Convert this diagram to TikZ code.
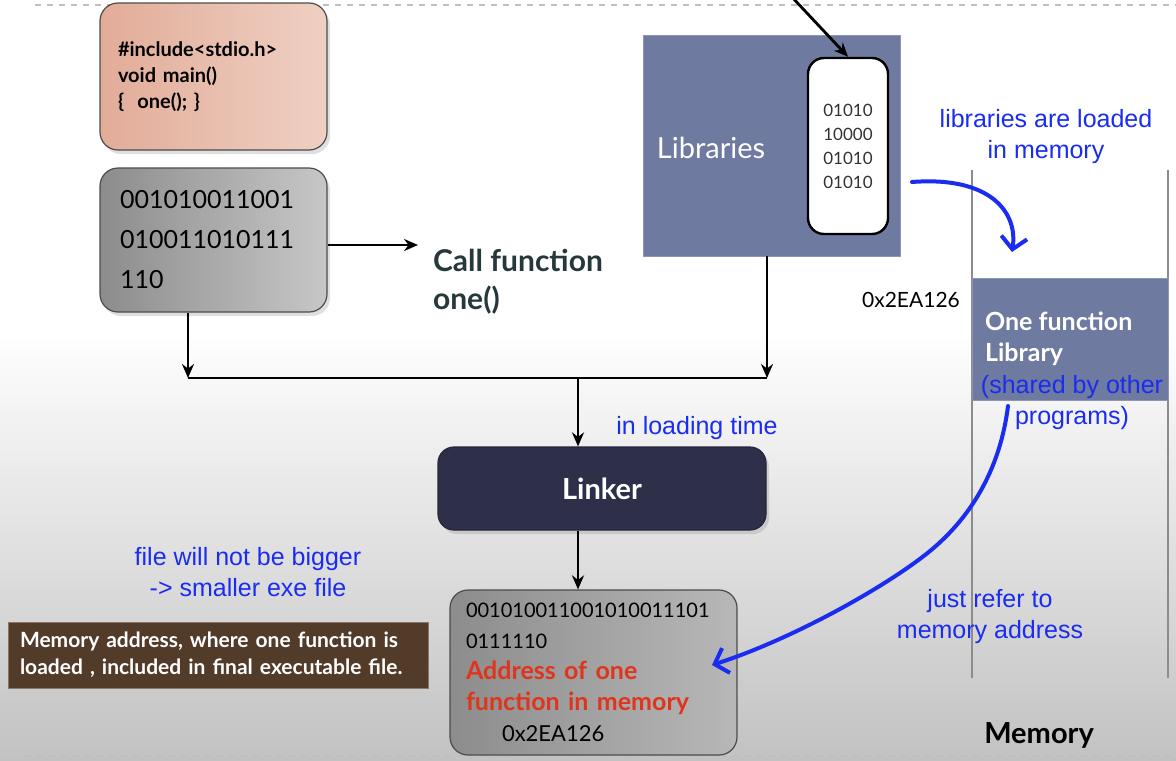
\documentclass[tikz,border=0pt]{standalone}
\usepackage{fontspec}
\setmainfont{Lato}
\newfontfamily\notefont{Liberation Sans}
\usetikzlibrary{arrows.meta,positioning,shadows}
\definecolor{slate}{HTML}{6F7AA0}
\definecolor{navy}{HTML}{2E3049}
\definecolor{brownbox}{HTML}{533B2A}
\definecolor{pen}{HTML}{1A2CF0}
\definecolor{callcol}{HTML}{27383D}
\definecolor{addrred}{HTML}{E0341C}
\definecolor{salmonA}{HTML}{E2AC98}
\definecolor{salmonB}{HTML}{EFD0C3}

\begin{document}
\begin{tikzpicture}[x=0.5pt,y=-0.5pt,
    box/.style={draw=black!70, rounded corners=9pt, line width=0.6pt, align=left, inner ysep=0pt},
    shadowed/.style={drop shadow={opacity=0.25, shadow xshift=1.5pt, shadow yshift=-2pt}},
    arrow/.style={-{Stealth[length=7pt,width=6pt]}, line width=1.4pt},
    pen/.style={draw=pen, line width=2pt, line cap=round, -{Straight Barb[length=6pt,width=13pt,line width=2pt]}},
    note/.style={text=pen, font=\notefont\fontsize{12.5}{15.5}\selectfont, align=center}
]
\useasboundingbox (0,0) rectangle (1176,760);
% background
\fill[white] (0,0) rectangle (1176,330);
\shade[top color=white, bottom color=black!24] (0,330) rectangle (1176,760);
\draw[black!25, dashed, line width=0.8pt] (35,5) -- (1176,5);
\draw[black!25, dashed, line width=0.8pt] (25,756) -- (1176,756);

% compile side
\node[box, shadowed, left color=salmonA, right color=salmonB, inner xsep=9pt, text width=95.5pt, minimum height=73.5pt,
      font=\bfseries\fontsize{10}{13}\selectfont] (src) at (213.5,76.5)
      {\#include<stdio.h>\\void main()\\\{ \ one(); \}};
\node[box, shadowed, left color=black!45, right color=black!22, inner xsep=10pt, text width=93.5pt, minimum height=72pt,
      font=\fontsize{12.5}{20}\selectfont] (bin) at (213.5,240)
      {001010011001\\010011010111\\110};
\node[anchor=west, align=left, text=callcol, font=\bfseries\fontsize{15}{19}\selectfont] (call) at (426,282) {Call function\\one()};
\draw[arrow] (bin.east |- 0,245) -- (418,245) coordinate (callin);

% libraries
\node[fill=slate, draw=slate!80!white, minimum width=128.5pt, minimum height=110.5pt, inner sep=0pt] (lib) at (771.5,145.5) {};
\node[text=white, font=\fontsize{14.5}{16}\selectfont] (libtxt) at (711,148) {Libraries};
\node[fill=white, draw=black, line width=1.2pt, rounded corners=8pt, minimum width=40pt, minimum height=88pt,
      font=\fontsize{8.5}{12}\selectfont, align=center, text=black!80] (libbits) at (848,146) {01010\\10000\\01010\\01010};
\coordinate (feed) at (790,-5);
\draw[arrow] (feed) -- (libbits.north);

% joining lines
\coordinate (jl) at (188,378);
\coordinate (jr) at (767,378);
\coordinate (jmid) at (578,378);
\draw[arrow] (bin.south -| jl) -- (jl);
\draw[arrow] (lib.south -| jr) -- (jr);
\draw[line width=1.4pt] (jl) -- (jr);

% linker
\node[box, shadowed, fill=navy, draw=navy!80!black, rounded corners=8pt, minimum width=164pt, minimum height=41.5pt,
      text=white, font=\bfseries\fontsize{14.5}{17}\selectfont] (linker) at (602,488.5) {Linker};
\draw[arrow] (jmid) -- (jmid |- linker.north);

% executable
\node[box, left color=black!45, right color=black!28, inner xsep=8pt, text width=127.5pt, minimum height=82.5pt,
      font=\fontsize{12.5}{15.5}\selectfont] (exe) at (593.5,672.5)
      {{\fontsize{10}{15.5}\selectfont 001010011001010011101}\\{\fontsize{10}{15.5}\selectfont 0111110}\\
       {\color{addrred}\bfseries Address of one}\\{\color{addrred}\bfseries function in memory}\\
       \hspace*{18pt}{\fontsize{11}{15.5}\selectfont 0x2EA126}};
\draw[arrow] (linker.south -| jmid) -- (exe.north -| jmid);

\node[fill=brownbox, draw=brownbox!70!white, minimum height=33pt, inner xsep=6pt, text width=198pt, align=left, text=white,
      font=\bfseries\fontsize{10.5}{13.5}\selectfont] (memnote) at (218,655)
      {Memory address, where one function is\\loaded , included in final executable file.};

% memory
\draw[black!45, line width=0.8pt] (972,170) -- (972,678);
\draw[black!45, line width=0.8pt] (1168,170) -- (1168,678);
\node[fill=slate, draw=slate!80!white, minimum width=98pt, minimum height=61pt, inner sep=0pt] (memblk) at (1070,339) {};
\node[anchor=north west, align=left, text=white, font=\bfseries\fontsize{12.5}{15.5}\selectfont] (memtxt) at (978,305) {One function\\Library};
\node[font=\fontsize{10.5}{12}\selectfont] (addr) at (911,300) {0x2EA126};
\node[font=\bfseries\fontsize{14.5}{16}\selectfont] (memlbl) at (1039,735) {Memory};

% annotations
\node[note] (loadtime) at (697,428) {in loading time};
\node[note] (bigger) at (248,572) {file will not be bigger\\-> smaller exe file};
\node[note] (loaded) at (1046,137) {libraries are loaded\\in memory};
\node[note] (shared) at (1072,403) {(shared by other\\programs)};
\node[note] (refer) at (990,617) {just refer to\\memory address};

\coordinate (penA) at (912,182);
\coordinate (penB) at (1012,252);
\draw[pen] (penA) .. controls (990,176) and (1018,212) .. (penB);
\coordinate (penC) at (1008,406);
\coordinate (penD) at (712,665);
\draw[pen] (penC) .. controls (1000,470) and (970,520) .. (925,555) .. controls (880,590) and (790,640) .. (penD);
\end{tikzpicture}
\end{document}
